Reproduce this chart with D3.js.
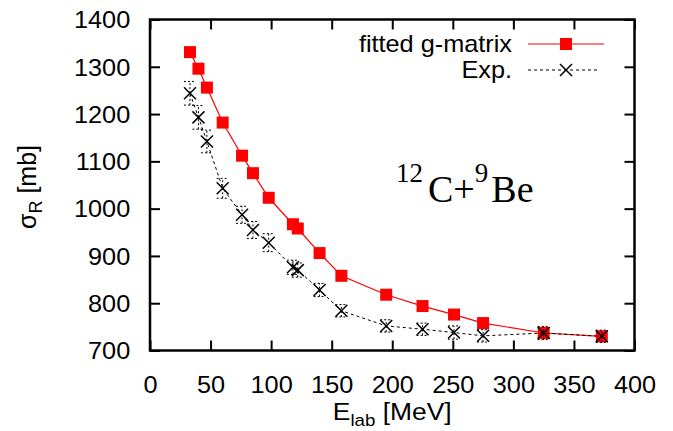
<!DOCTYPE html>
<html>
<head>
<meta charset="utf-8">
<script src="https://cdn.jsdelivr.net/npm/d3@7"></script>
<style>
  body { margin: 0; background: #fff; }
</style>
</head>
<body>
<div id="grafico"></div>
<script>
// energia (MeV) e secoes de choque (mb)
const energia = [33, 40, 47, 60, 76, 85, 98, 118, 122, 140, 158, 195, 225, 251, 275, 325, 373];
const ajustado = [1331, 1296, 1256, 1182, 1112, 1075, 1023, 967, 958, 906, 858, 818, 794, 776, 758, 737, 730];
const experimental = [1244, 1193, 1142, 1043, 987, 955, 928, 876, 870, 828, 784, 752, 745, 738, 731, 737, 730];
const erroExp = [25, 25, 24, 21, 18, 18, 19, 15, 15, 14, 13, 13, 13, 14, 13, 14, 13];
const ticksX = [0, 50, 100, 150, 200, 250, 300, 350, 400];
const ticksY = [700, 800, 900, 1000, 1100, 1200, 1300, 1400];
const legendas = ['fitted g-matrix', 'Exp.'];

const largura = 673, altura = 431;
const margem = { topo: 19.5, direita: 38.5, baixo: 80.5, esquerda: 150 };
const sans = '"Liberation Sans", Arial, sans-serif';
const serif = '"Liberation Serif", "Times New Roman", serif';

const svg = d3.select('#grafico').append('svg')
  .attr('width', largura).attr('height', altura)
  .style('font-family', sans);

const x = d3.scaleLinear().domain([0, 400]).range([margem.esquerda, largura - margem.direita]);
const y = d3.scaleLinear().domain([700, 1400]).range([altura - margem.baixo, margem.topo]);

const esticar = 'scale(1.1,1)';
const tick = 10;

// eixos com ticks para dentro (e espelhados)
const gx = svg.append('g').attr('transform', `translate(0,${y(700)})`)
  .call(d3.axisBottom(x).tickValues(ticksX).tickSize(-tick).tickPadding(tick + 16).tickFormat(d3.format('d')));
const gxTop = svg.append('g').attr('transform', `translate(0,${y(1400)})`)
  .call(d3.axisTop(x).tickValues(ticksX).tickSize(-tick).tickFormat(''));
const gy = svg.append('g').attr('transform', `translate(${x(0)},0)`)
  .call(d3.axisLeft(y).tickValues(ticksY).tickSize(-tick).tickPadding(tick + 8).tickFormat(d3.format('d')));
const gyR = svg.append('g').attr('transform', `translate(${x(400)},0)`)
  .call(d3.axisRight(y).tickValues(ticksY).tickSize(-tick).tickFormat(''));

[gx, gxTop, gy, gyR].forEach(g => {
  g.select('.domain').remove();
  g.attr('font-family', null).attr('font-size', null);
  g.selectAll('line').attr('stroke', '#000').attr('stroke-width', 2);
  g.selectAll('text').attr('fill', '#000').style('font-size', '23px').style('font-family', sans);
});
gx.selectAll('text').attr('transform', esticar);
gy.selectAll('text').attr('transform', esticar).attr('dy', '0.36em');

// moldura
svg.append('rect')
  .attr('x', x(0)).attr('y', y(1400))
  .attr('width', x(400) - x(0)).attr('height', y(700) - y(1400))
  .attr('fill', 'none').attr('stroke', '#000').attr('stroke-width', 2.5);

// titulos dos eixos
const tx = svg.append('text')
  .attr('transform', `translate(${(x(0) + x(400)) / 2},420) ${esticar}`)
  .attr('text-anchor', 'middle').style('font-size', '24px');
tx.append('tspan').text('E');
tx.append('tspan').style('font-size', '17px').attr('dy', 6).text('lab');
tx.append('tspan').attr('dy', -6).text(' [MeV]');

const ty = svg.append('text')
  .attr('transform', `translate(36,${y(1050) + 2}) rotate(-90)`)
  .attr('text-anchor', 'middle').style('font-size', '25px');
ty.append('tspan').text('σ');
ty.append('tspan').style('font-size', '18px').attr('dy', 6).text('R');
ty.append('tspan').attr('dy', -6).text(' [mb]');

// curva ajustada
const linha = d3.line().x(d => x(d[0])).y(d => y(d[1]));
const ptsAj = energia.map((e, i) => [e, ajustado[i]]);
const ptsExp = energia.map((e, i) => [e, experimental[i]]);

svg.append('path').datum(ptsAj).attr('d', linha)
  .attr('fill', 'none').attr('stroke', '#ff0000').attr('stroke-width', 1.2);
const lado = 12;
svg.selectAll('.quad').data(ptsAj).enter().append('rect')
  .attr('class', 'quad')
  .attr('x', d => x(d[0]) - lado / 2).attr('y', d => y(d[1]) - lado / 2)
  .attr('width', lado).attr('height', lado).attr('fill', '#ff0000');

// experimental
svg.append('path').datum(ptsExp).attr('d', linha)
  .attr('fill', 'none').attr('stroke', '#000').attr('stroke-width', 1)
  .attr('stroke-dasharray', '3,3');

const cap = 6;
const barras = svg.selectAll('.erro').data(energia).enter().append('g').attr('class', 'erro')
  .attr('stroke', '#000').attr('stroke-width', 1).attr('stroke-dasharray', '2,2').attr('fill', 'none');
barras.append('line')
  .attr('x1', d => x(d)).attr('x2', d => x(d))
  .attr('y1', (d, i) => y(experimental[i] - erroExp[i]))
  .attr('y2', (d, i) => y(experimental[i] + erroExp[i]));
barras.append('line')
  .attr('x1', d => x(d) - cap).attr('x2', d => x(d) + cap)
  .attr('y1', (d, i) => y(experimental[i] + erroExp[i]))
  .attr('y2', (d, i) => y(experimental[i] + erroExp[i]));
barras.append('line')
  .attr('x1', d => x(d) - cap).attr('x2', d => x(d) + cap)
  .attr('y1', (d, i) => y(experimental[i] - erroExp[i]))
  .attr('y2', (d, i) => y(experimental[i] - erroExp[i]));

function cruz(g, cx, cy, r) {
  g.append('path')
    .attr('d', `M${cx - r},${cy - r}L${cx + r},${cy + r}M${cx - r},${cy + r}L${cx + r},${cy - r}`)
    .attr('stroke', '#000').attr('stroke-width', 1.5).attr('fill', 'none');
}
const gCruz = svg.append('g');
ptsExp.forEach(d => cruz(gCruz, x(d[0]), y(d[1]), 6));

// legenda
const legX = 512, legY = [44, 70];
const leg = svg.append('g');
legendas.forEach((t, i) => {
  leg.append('text')
    .attr('transform', `translate(${legX},${legY[i] + 8}) ${esticar}`)
    .attr('text-anchor', 'end').style('font-size', '23px').text(t);
});
leg.append('line').attr('x1', 528).attr('x2', 604).attr('y1', legY[0]).attr('y2', legY[0])
  .attr('stroke', '#ff0000').attr('stroke-width', 1.2);
leg.append('rect').attr('x', 566 - lado / 2).attr('y', legY[0] - lado / 2)
  .attr('width', lado).attr('height', lado).attr('fill', '#ff0000');
leg.append('line').attr('x1', 528).attr('x2', 600).attr('y1', legY[1]).attr('y2', legY[1])
  .attr('stroke', '#000').attr('stroke-width', 1).attr('stroke-dasharray', '3,3');
cruz(leg, 566, legY[1], 6);

// anotacao da reacao
const nota = svg.append('text')
  .attr('x', 396).attr('y', 202)
  .style('font-family', serif)
  .style('font-size', '38px');
nota.append('tspan').style('font-size', '27px').attr('dy', -20).text('12');
nota.append('tspan').attr('dy', 20).attr('dx', 5).text('C+');
nota.append('tspan').style('font-size', '27px').attr('dy', -20).text('9');
nota.append('tspan').attr('dy', 20).attr('dx', 3).text('Be');
</script>
</body>
</html>
